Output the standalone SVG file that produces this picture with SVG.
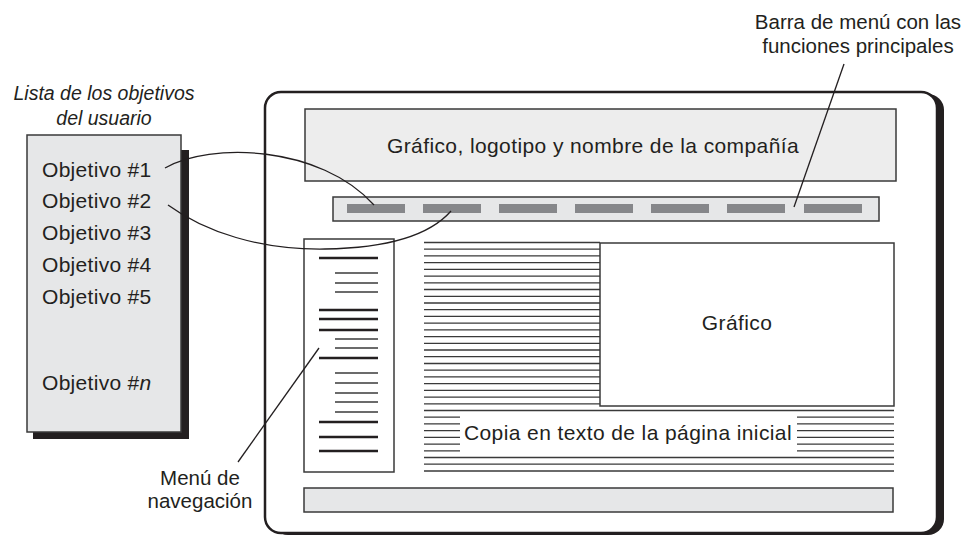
<svg xmlns="http://www.w3.org/2000/svg" width="975" height="538" viewBox="0 0 975 538">
<style>
  text { font-family: "Liberation Sans", Arial, sans-serif; fill: #231f20; }
  .obj { font-size: 21px; letter-spacing: 0.3px; }
  .lbl { font-size: 19.5px; }
  .big { font-size: 21px; letter-spacing: 0.4px; }
  .box { stroke: #3a3a3a; stroke-width: 1.5; }
  .gray { fill: #e6e7e8; }
  .item { fill: #86878a; }
  .thick { stroke: #231f20; stroke-width: 2.6; }
  .thin { stroke: #3a3a3a; stroke-width: 1.3; }
  .tl { stroke: #3a3a3a; stroke-width: 1.3; }
  .conn { fill: none; stroke: #231f20; stroke-width: 1.3; }
</style>

<!-- User goals list -->
<g id="goals-list">
  <text x="104" y="100" class="lbl" font-style="italic" text-anchor="middle">Lista de los objetivos</text>
  <text x="104" y="125" class="lbl" font-style="italic" text-anchor="middle">del usuario</text>
  <rect x="33" y="150" width="156" height="289" fill="#231f20"/>
  <rect x="27" y="135" width="154" height="297" class="box gray"/>
  <text x="42" y="177" class="obj">Objetivo #1</text>
  <text x="42" y="208" class="obj">Objetivo #2</text>
  <text x="42" y="240" class="obj">Objetivo #3</text>
  <text x="42" y="272" class="obj">Objetivo #4</text>
  <text x="42" y="304" class="obj">Objetivo #5</text>
  <text x="42" y="390" class="obj">Objetivo #<tspan font-style="italic">n</tspan></text>
</g>

<!-- Browser frame -->
<g id="browser-frame">
  <rect x="272" y="94" width="672" height="441" rx="16" fill="#231f20"/>
  <rect x="265" y="92" width="672" height="441" rx="16" fill="#ffffff" stroke="#231f20" stroke-width="2.5"/>
</g>

<g id="header">
  <rect x="305" y="109" width="591" height="72" fill="#ededed" class="box"/>
  <text x="593" y="153" class="big" text-anchor="middle">Gráfico, logotipo y nombre de la compañía</text>
</g>

<g id="menu-bar">
  <rect x="333" y="197" width="546" height="24" class="box gray"/>
  <rect x="347" y="204" width="58" height="9" class="item"/>
  <rect x="423" y="204" width="58" height="9" class="item"/>
  <rect x="499" y="204" width="58" height="9" class="item"/>
  <rect x="575" y="204" width="58" height="9" class="item"/>
  <rect x="651" y="204" width="58" height="9" class="item"/>
  <rect x="727" y="204" width="58" height="9" class="item"/>
  <rect x="804" y="204" width="58" height="9" class="item"/>
</g>

<g id="nav-menu">
  <rect x="304" y="239" width="90" height="233" fill="#ffffff" class="box"/>
  <line x1="319" y1="258" x2="378" y2="258" class="thick"/>
  <line x1="335" y1="273" x2="378" y2="273" class="thin"/>
  <line x1="335" y1="283" x2="378" y2="283" class="thin"/>
  <line x1="335" y1="292" x2="378" y2="292" class="thin"/>
  <line x1="319" y1="310" x2="378" y2="310" class="thick"/>
  <line x1="319" y1="319" x2="378" y2="319" class="thick"/>
  <line x1="319" y1="330" x2="378" y2="330" class="thick"/>
  <line x1="335" y1="339" x2="378" y2="339" class="thin"/>
  <line x1="335" y1="348" x2="378" y2="348" class="thin"/>
  <line x1="319" y1="358" x2="378" y2="358" class="thick"/>
  <line x1="335" y1="373" x2="378" y2="373" class="thin"/>
  <line x1="335" y1="383" x2="378" y2="383" class="thin"/>
  <line x1="335" y1="393" x2="378" y2="393" class="thin"/>
  <line x1="335" y1="402" x2="378" y2="402" class="thin"/>
  <line x1="335" y1="412" x2="378" y2="412" class="thin"/>
  <line x1="319" y1="422" x2="378" y2="422" class="thick"/>
  <line x1="319" y1="437" x2="378" y2="437" class="thick"/>
  <line x1="319" y1="451" x2="378" y2="451" class="thick"/>
</g>

<g id="text-copy">
  <path class="tl" d="M424,242.5H600 M424,249.2H600 M424,255.9H600 M424,262.7H600 M424,269.4H600 M424,276.1H600 M424,282.8H600 M424,289.5H600 M424,296.3H600 M424,303H600 M424,309.7H600 M424,316.4H600 M424,323.1H600 M424,329.9H600 M424,336.6H600 M424,343.3H600 M424,350H600 M424,356.7H600 M424,363.5H600 M424,370.2H600 M424,376.9H600 M424,383.6H600 M424,390.3H600 M424,397.1H600 M424,403.8H600"/>
  <path class="tl" d="M424,410.5H894 M424,457.5H894 M424,464.2H894 M424,471H894"/>
  <path class="tl" d="M424,417.2H460 M424,423.9H460 M424,430.7H460 M424,437.4H460 M424,444.1H460 M424,450.8H460"/>
  <path class="tl" d="M797,417.2H894 M797,423.9H894 M797,430.7H894 M797,437.4H894 M797,444.1H894 M797,450.8H894"/>
  <text x="628" y="440" class="big" text-anchor="middle">Copia en texto de la página inicial</text>
</g>

<g id="graphic">
  <rect x="600" y="243" width="294" height="163" fill="#ffffff" class="box"/>
  <text x="737" y="330" class="big" text-anchor="middle">Gráfico</text>
</g>

<g id="footer">
  <rect x="304" y="488" width="589" height="24" class="box gray"/>
</g>

<g id="label-menu-bar">
  <text x="858" y="29" font-size="20.5" text-anchor="middle">Barra de menú con las</text>
  <text x="858" y="53" font-size="20.5" text-anchor="middle">funciones principales</text>
</g>

<g id="label-nav">
  <text x="200" y="485" font-size="20.5" text-anchor="middle">Menú de</text>
  <text x="200" y="508" font-size="20.5" text-anchor="middle">navegación</text>
</g>

<g id="connectors">
  <path class="conn" d="M165,168 C210,142 320,145 374,205"/>
  <path class="conn" d="M168,205 C205,232 260,250 325,249 C390,248 430,235 451,211"/>
  <line class="conn" x1="238" y1="462" x2="319" y2="348"/>
  <line class="conn" x1="844" y1="64" x2="794" y2="207"/>
</g>
</svg>
